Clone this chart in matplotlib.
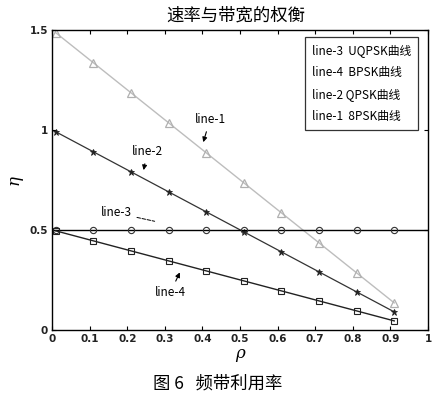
import matplotlib
matplotlib.use("Agg")
import matplotlib.pyplot as plt
from matplotlib.lines import Line2D

plt.rcParams['font.family'] = ['Noto Sans CJK SC', 'DejaVu Sans']

rho = [0.01, 0.11, 0.21, 0.31, 0.41, 0.51, 0.61, 0.71, 0.81, 0.91]
line1_8psk = [1.485, 1.335, 1.185, 1.035, 0.885, 0.735, 0.585, 0.435, 0.285, 0.135]
line2_qpsk = [0.99, 0.89, 0.79, 0.69, 0.59, 0.49, 0.39, 0.29, 0.19, 0.09]
line3_uqpsk = [0.5, 0.5, 0.5, 0.5, 0.5, 0.5, 0.5, 0.5, 0.5, 0.5]
line4_bpsk = [0.495, 0.445, 0.395, 0.345, 0.295, 0.245, 0.195, 0.145, 0.095, 0.045]

xticks = [0, 0.1, 0.2, 0.3, 0.4, 0.5, 0.6, 0.7, 0.8, 0.9, 1]
xticklabels = ['0', '0.1', '0.2', '0.3', '0.4', '0.5', '0.6', '0.7', '0.8', '0.9', '1']
yticks = [0, 0.5, 1, 1.5]
yticklabels = ['0', '0.5', '1', '1.5']
legend_labels = ['line-3  UQPSK曲线', 'line-4  BPSK曲线', 'line-2 QPSK曲线', 'line-1  8PSK曲线']

fig = plt.figure(figsize=(4.45, 3.97), dpi=100)
ax = fig.add_axes([0.117, 0.169, 0.845, 0.756])

ax.plot(rho, line1_8psk, color='#bdbdbd', lw=1.0, marker='^', ms=5.5,
        mfc='none', mec='#b0b0b0', mew=0.9)
ax.plot(rho, line2_qpsk, color='#333333', lw=0.9, marker='*', ms=5,
        mfc='#222222', mec='#222222', mew=0.6)
ax.plot([0, 1], [0.5, 0.5], color='black', lw=1.0)
ax.plot(rho, line3_uqpsk, color='black', lw=0, marker='o', ms=4.5,
        mfc='none', mec='#333333', mew=0.8)
ax.plot(rho, line4_bpsk, color='#222222', lw=1.0, marker='s', ms=5,
        mfc='none', mec='#222222', mew=0.8)

ax.set_xlim(0, 1)
ax.set_ylim(0, 1.5)
ax.set_xticks(xticks, xticklabels, fontsize=7.5, fontweight='bold', color='#222222',
              family='DejaVu Sans')
ax.set_yticks(yticks, yticklabels, fontsize=7.5, fontweight='bold', color='#222222',
              family='DejaVu Sans')
ax.tick_params(direction='in', top=True, right=True, length=3, width=0.8, pad=3)
for sp in ax.spines.values():
    sp.set_linewidth(1.0)

ax.set_xlabel('ρ', fontsize=12, style='italic', family='DejaVu Serif', labelpad=1)
ax.set_ylabel('η', fontsize=12, style='italic', family='DejaVu Serif', labelpad=5,
              rotation=90)

fig.text(0.53, 0.962, '速率与带宽的权衡', ha='center', va='center', fontsize=12.5)
fig.text(0.49, 0.035, '图 6   频带利用率', ha='center', va='center', fontsize=12.5)

handles = [Line2D([], [], lw=0) for _ in legend_labels]
leg = ax.legend(handles, legend_labels, loc='upper right', handlelength=0,
                handletextpad=0, fontsize=8.5, frameon=True, fancybox=False,
                edgecolor='black', labelspacing=0.75, borderpad=0.6,
                bbox_to_anchor=(0.99, 0.995))
leg.get_frame().set_linewidth(0.9)

arrowprops = dict(arrowstyle='-|>', color='black', lw=0.8, mutation_scale=7)
ax.annotate('line-1', xy=(0.40, 0.925), xytext=(0.42, 1.05), fontsize=8.5,
            ha='center', va='center', arrowprops=arrowprops)
ax.annotate('line-2', xy=(0.242, 0.785), xytext=(0.253, 0.89), fontsize=8.5,
            ha='center', va='center', arrowprops=arrowprops)
ax.annotate('line-3', xy=(0.28, 0.54), xytext=(0.17, 0.585), fontsize=8.5,
            ha='center', va='center',
            arrowprops=dict(arrowstyle='-', color='black', lw=0.7, ls='--'))
ax.annotate('line-4', xy=(0.343, 0.30), xytext=(0.314, 0.185), fontsize=8.5,
            ha='center', va='center', arrowprops=arrowprops)

fig.savefig('out.png', dpi=100)
